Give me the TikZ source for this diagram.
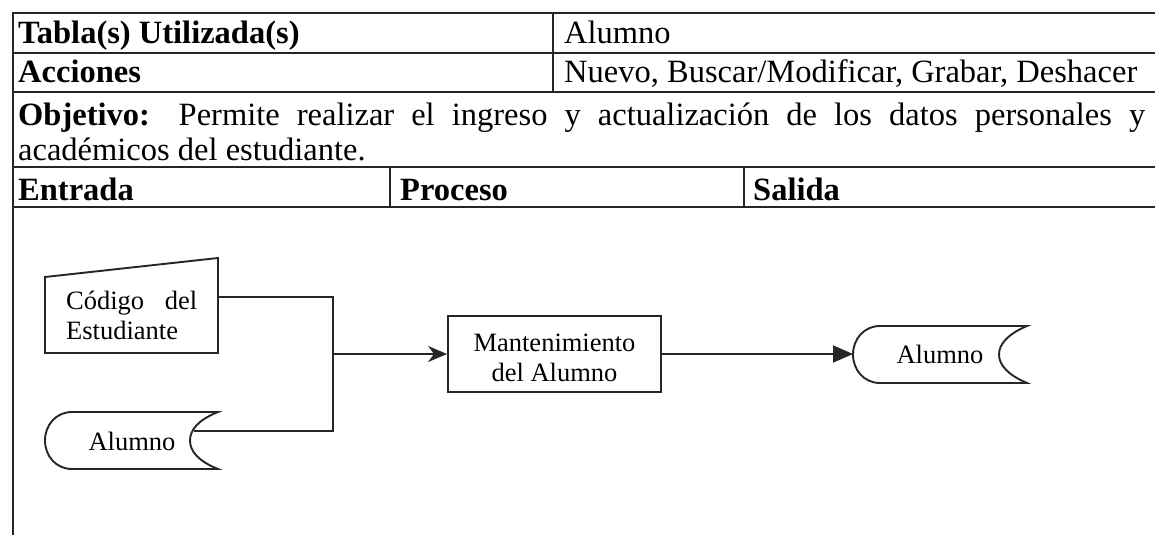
\documentclass[tikz,border=0pt]{standalone}
\usepackage{fontspec}
\setmainfont{Liberation Serif}
\usetikzlibrary{arrows.meta}
\tikzset{
  grid/.style={line width=1.8pt, black!85},
  heavy/.style={line width=2.8pt, black!85},
  shp/.style={line width=1.9pt, black!85},
  tbltxt/.style={inner sep=0pt, anchor=base west, font=\fontsize{32.5}{34}\selectfont},
  dgtxt/.style={inner sep=0pt, font=\fontsize{26.5}{30}\selectfont},
  conn/.style={line width=1.8pt, black!85},
}
\begin{document}
\begin{tikzpicture}[x=1pt,y=-1pt]
\useasboundingbox[fill=white] (0,0) rectangle (1155,535);
% table grid
\draw[heavy] (12,13) -- (1155,13);
\draw[grid] (13,12) -- (13,535);
\draw[grid] (13,53) -- (1155,53);
\draw[grid] (13,92) -- (1155,92);
\draw[grid] (13,167) -- (1155,167);
\draw[grid] (13,207) -- (1155,207);
\draw[grid] (553,13) -- (553,92);
\draw[grid] (390,167) -- (390,207);
\draw[grid] (744,167) -- (744,207);
% table texts
\node[tbltxt] (t1) at (18,44) {\bfseries Tabla(s) Utilizada(s)};
\node[tbltxt] (t2) at (564,44) {Alumno};
\node[tbltxt] (t3) at (18,82) {\bfseries Acciones};
\node[tbltxt] (t4) at (564,82) {Nuevo, Buscar/Modificar, Grabar, Deshacer};
\node[inner sep=0pt, anchor=north west, text width=1127pt, align=justify,
      font=\fontsize{32.5}{35}\selectfont] (obj) at (18,103)
  {\hyphenpenalty=10000 \textbf{Objetivo:} Permite realizar el ingreso y actualización de los datos personales y\linebreak académicos del estudiante.};
\node[tbltxt] (h1) at (18,200) {\bfseries Entrada};
\node[tbltxt] (h2) at (400,200) {\bfseries Proceso};
\node[tbltxt] (h3) at (753,200) {\bfseries Salida};
% manual input: Codigo del Estudiante
\draw[shp] (45,277) -- (218,258) -- (218,353) -- (45,353) -- cycle;
\node[dgtxt, anchor=base west, text width=131pt, align=justify] (cod) at (66,309)
  {Código del Estudiante};
\coordinate (codR) at (218,297);
% left storage: Alumno
\draw[shp] (72,412) -- (218,412)
  .. controls (198,420) and (190,430) .. (190,440.5)
  .. controls (190,451) and (198,461) .. (218,469)
  -- (72,469)
  .. controls (56,469) and (45,456) .. (45,440.5)
  .. controls (45,425) and (56,412) .. (72,412) -- cycle;
\node[dgtxt] (aluIn) at (132,441) {Alumno};
\coordinate (aluInR) at (194,431);
% process box
\node[shp, draw, minimum width=213pt, minimum height=76pt, inner sep=0pt] (mant) at (554.5,354) {};
\node[dgtxt, align=center] (mantTxt) at (554.5,358) {Mantenimiento\\del Alumno};
% right storage: Alumno
\draw[shp] (880,326) -- (1027,326)
  .. controls (1008,334) and (999,344) .. (999,354.5)
  .. controls (999,365) and (1008,375) .. (1027,383)
  -- (880,383)
  .. controls (864,383) and (853,370) .. (853,354.5)
  .. controls (853,339) and (864,326) .. (880,326) -- cycle;
\node[dgtxt] (aluOut) at (940,354) {Alumno};
\coordinate (aluOutL) at (853,354);
% connectors
\coordinate (j) at (333,354);
\draw[conn] (codR) -| (j);
\draw[conn] (aluInR) -| (j);
\draw[conn, -{Stealth[length=19pt, width=16pt, inset=6pt]}] (j) -- (mant.west);
\draw[conn, -{Triangle[length=20pt, width=17pt]}] (mant.east) -- (aluOutL);
\end{tikzpicture}
\end{document}
